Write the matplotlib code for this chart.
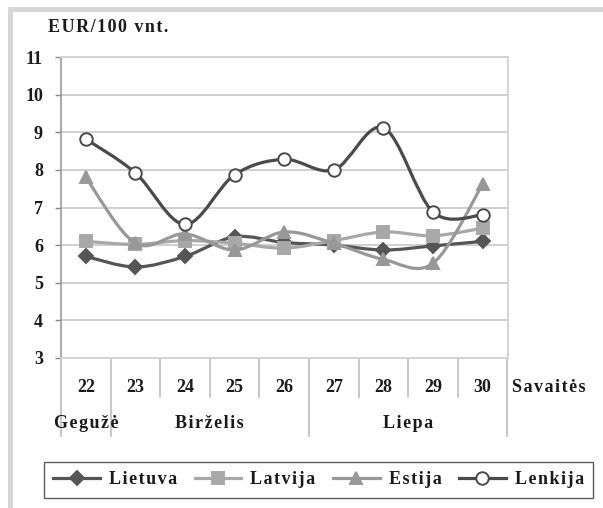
import numpy as np
import matplotlib
matplotlib.use('Agg')
import matplotlib.pyplot as plt
from matplotlib.path import Path
from matplotlib.patches import PathPatch, Rectangle
from matplotlib.lines import Line2D
import matplotlib.transforms as mtransforms

weeks = ['22', '23', '24', '25', '26', '27', '28', '29', '30']
months = ['Gegužė', 'Birželis', 'Liepa']
month_spans = [(0, 1), (1, 5), (5, 9)]
lietuva = [5.70, 5.42, 5.70, 6.22, 6.07, 6.00, 5.87, 5.98, 6.10]
latvija = [6.10, 6.02, 6.12, 6.05, 5.92, 6.12, 6.35, 6.25, 6.45]
estija = [7.80, 6.05, 6.30, 5.87, 6.35, 6.05, 5.62, 5.52, 7.62]
lenkija = [8.82, 7.92, 6.55, 7.87, 8.28, 8.00, 9.12, 6.88, 6.80]
yticks = [3, 4, 5, 6, 7, 8, 9, 10, 11]

SERIF = ['Liberation Serif', 'DejaVu Serif']
FS = 13


def sp(s):
    return '\u200a'.join(s)


def smooth_path(xs, ys):
    pts = list(zip(xs, ys))
    n = len(pts)
    verts = [pts[0]]
    codes = [Path.MOVETO]
    for i in range(n - 1):
        p0 = pts[max(i - 1, 0)]
        p1 = pts[i]
        p2 = pts[i + 1]
        p3 = pts[min(i + 2, n - 1)]
        c1 = (p1[0] + (p2[0] - p0[0]) / 6, p1[1] + (p2[1] - p0[1]) / 6)
        c2 = (p2[0] - (p3[0] - p1[0]) / 6, p2[1] - (p3[1] - p1[1]) / 6)
        verts += [c1, c2, p2]
        codes += [Path.CURVE4] * 3
    return Path(verts, codes)


W, H = 603, 508
fig = plt.figure(figsize=(W / 100, H / 100), dpi=100)

# outer light-gray frame (top and left bands)
fig.patches.append(Rectangle((8 / W, 1 - 12 / H), 1, 5 / H, transform=fig.transFigure,
                             facecolor='#d6d6d6', edgecolor='none'))
fig.patches.append(Rectangle((8 / W, 0), 5 / W, 1 - 7 / H, transform=fig.transFigure,
                             facecolor='#d6d6d6', edgecolor='none'))

ax = fig.add_axes([61 / W, 1 - 358 / H, (507.5 - 61) / W, 301 / H])
x = np.arange(len(weeks))
ax.set_xlim(-0.5, len(weeks) - 0.5)
ax.set_ylim(3, 11)
ax.set_yticks(yticks)
ax.set_yticklabels([str(t) for t in yticks], fontfamily=SERIF, fontweight='bold',
                   fontsize=FS, color='#1a1a1a')
ax.tick_params(axis='y', direction='out', length=4, width=1, color='#888888', pad=9)
ax.set_xticks([])
ax.grid(axis='y', color='#d0d0d0', linewidth=1.4)
ax.set_axisbelow(True)
for s in ['top', 'right', 'bottom']:
    ax.spines[s].set_color('#d4d4d4')
    ax.spines[s].set_linewidth(1.4)
ax.spines['left'].set_color('#9a9a9a')
ax.spines['left'].set_linewidth(1.2)

series = [
    ('Lietuva', lietuva, '#555555', 'D', '#555555', '#555555', 7),
    ('Latvija', latvija, '#a8a8a8', 's', '#a8a8a8', '#a8a8a8', 8),
    ('Estija', estija, '#989898', '^', '#989898', '#989898', 9),
    ('Lenkija', lenkija, '#4a4a4a', 'o', 'white', '#4a4a4a', 9),
]
handles = []
for i, (name, vals, col, mk, mfc, mec, ms) in enumerate(series):
    p = smooth_path(x, vals)
    ax.add_patch(PathPatch(p, facecolor='none', edgecolor=col, linewidth=2.3,
                           zorder=3 + i, capstyle='round', joinstyle='round'))
    ax.plot(x, vals, linestyle='none', marker=mk, markersize=ms, markerfacecolor=mfc,
            markeredgecolor=mec, markeredgewidth=1.4, zorder=3.5 + i)
    handles.append(Line2D([], [], color=col, linewidth=2.3, marker=mk, markersize=ms,
                          markerfacecolor=mfc, markeredgecolor=mec, markeredgewidth=1.4))

# category table below the plot
trans = mtransforms.blended_transform_factory(ax.transData, ax.transAxes)
ah = 301.0
y_week_bot = -39 / ah
y_month_bot = -78 / ah
long_bounds = {-0.5, 0.5, 4.5, 8.5}
for b in np.arange(-0.5, len(weeks), 1.0):
    yb = y_month_bot if b in long_bounds else y_week_bot
    ax.plot([b, b], [0, yb], color='#bdbdbd', linewidth=1.2, transform=trans, clip_on=False)
for i, w in enumerate(weeks):
    ax.text(i, -29 / ah, w, transform=trans, ha='center', va='center', fontfamily=SERIF,
            fontweight='bold', fontsize=FS, color='#1a1a1a')
for m, (a, b) in zip(months, month_spans):
    ax.text((a + b) / 2 - 0.5, -65 / ah, sp(m), transform=trans,
            ha='center', va='center', fontfamily=SERIF, fontweight='bold', fontsize=FS,
            color='#1a1a1a')
fig.text(512 / W, 1 - 387 / H, sp('Savaitės'), ha='left', va='center', fontfamily=SERIF,
         fontweight='bold', fontsize=FS, color='#1a1a1a')

fig.text(48 / W, 1 - 28 / H, sp('EUR/100 vnt.'), ha='left', va='center', fontfamily=SERIF,
         fontweight='bold', fontsize=FS, color='#1a1a1a')

leg = fig.legend(handles, [sp(s[0]) for s in series], loc='center',
                 bbox_to_anchor=((44 + 593) / 2 / W, 1 - 480 / H), ncol=4,
                 prop={'family': SERIF, 'weight': 'bold', 'size': FS},
                 handlelength=2.6, handletextpad=0.5, columnspacing=0.95,
                 frameon=True, fancybox=False, borderpad=0.5, borderaxespad=0)
leg.get_frame().set_edgecolor('#333333')
leg.get_frame().set_linewidth(1.0)
for t in leg.get_texts():
    t.set_color('#1a1a1a')

fig.savefig('out.png', dpi=100)
